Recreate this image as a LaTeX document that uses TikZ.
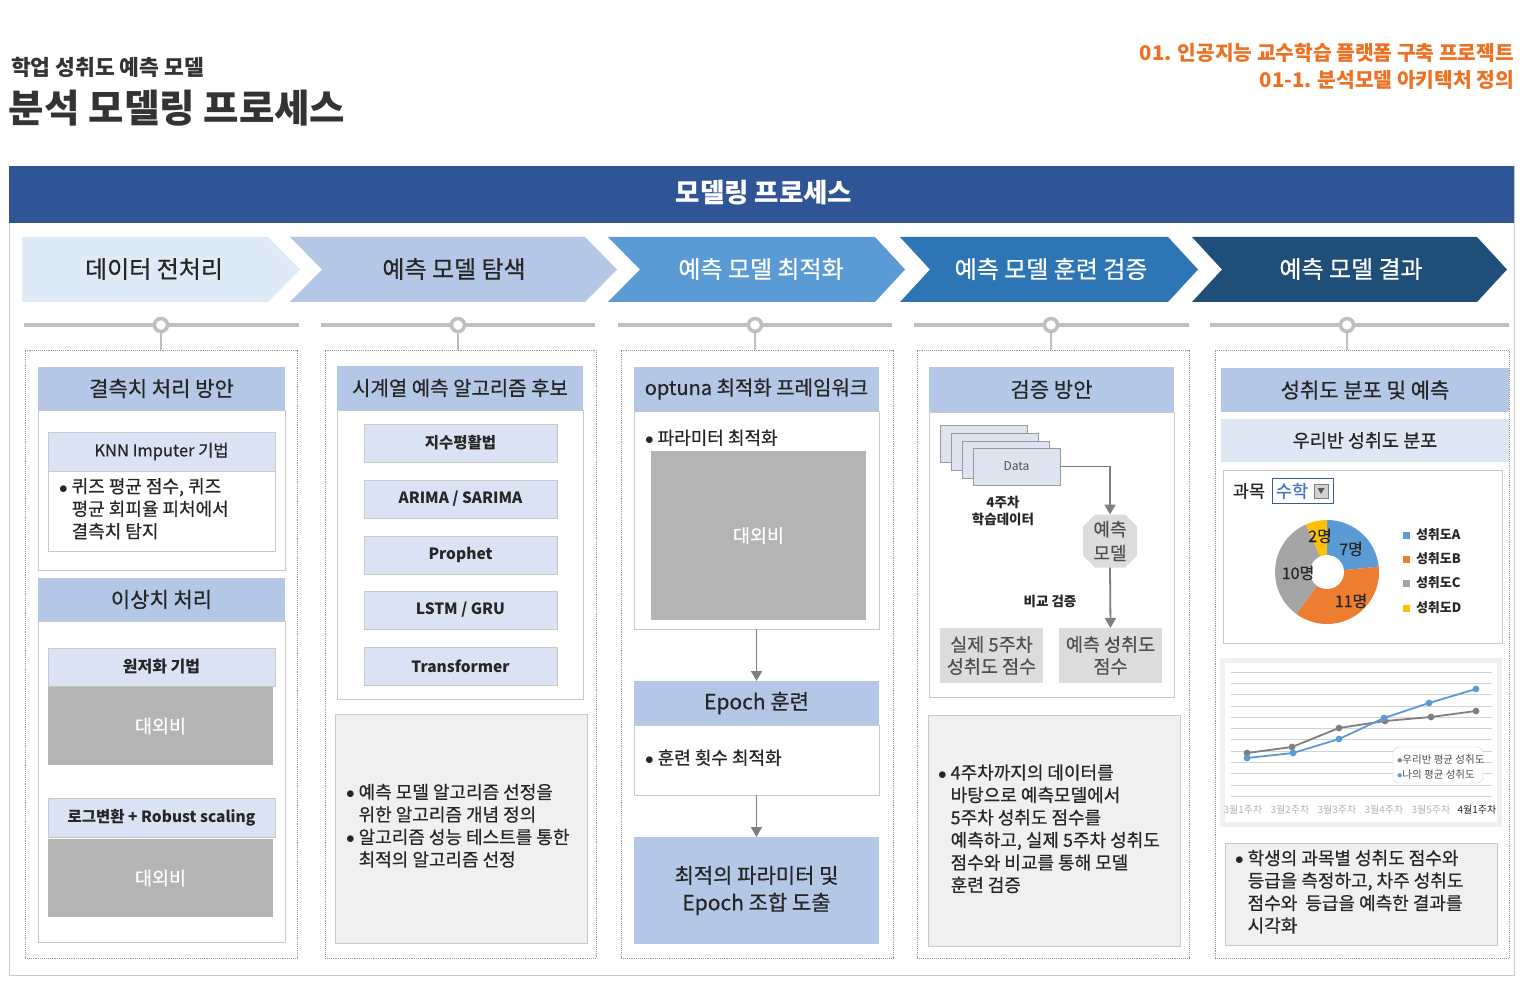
\documentclass[tikz,border=0pt]{standalone}
\usepackage{fontspec}
\setmainfont{Noto Sans CJK KR}
\newfontfamily\med[FakeBold=0.5]{Noto Sans CJK KR}
\usetikzlibrary{arrows.meta,shapes.misc}
\definecolor{txt}{HTML}{262626}
\definecolor{titleg}{HTML}{333333}
\definecolor{orng}{HTML}{EE7022}
\definecolor{banner}{HTML}{2F5597}
\definecolor{chA}{HTML}{DEEAF6}
\definecolor{chB}{HTML}{B4C7E7}
\definecolor{chC}{HTML}{5B9BD5}
\definecolor{chD}{HTML}{2E75B6}
\definecolor{chE}{HTML}{1F4E79}
\definecolor{hdrblue}{HTML}{B4C7E7}
\definecolor{subblue}{HTML}{DAE3F3}
\definecolor{lineg}{HTML}{C8C8C8}
\definecolor{dotg}{HTML}{9A9A9A}
\definecolor{tlg}{HTML}{BFBFBF}
\definecolor{confg}{HTML}{B4B4B4}
\definecolor{noteg}{HTML}{F0F0F0}
\definecolor{arrg}{HTML}{7F7F7F}
\definecolor{cardc}{HTML}{DDE4EF}
\definecolor{cardb}{HTML}{9A9A9A}
\definecolor{boxg}{HTML}{DCDCDC}
\definecolor{gtext}{HTML}{505050}
\definecolor{pieA}{HTML}{5B9BD5}
\definecolor{pieB}{HTML}{ED7D31}
\definecolor{pieC}{HTML}{A5A5A5}
\definecolor{pieD}{HTML}{FFC000}
\definecolor{ddblue}{HTML}{3A5C9A}
\definecolor{mathblue}{HTML}{4472C4}
\definecolor{sublight}{HTML}{DEE8F5}
\newcommand\fsz[2]{\fontsize{#1}{#2}\selectfont}
\newcommand\bult{$\bullet$}
\newcommand\mybox[7]{\node[#2, minimum width={(#5)-(#3)}, minimum height={(#6)-(#4)}] (#1) at ({((#3)+(#5))/2},{((#4)+(#6))/2}) {#7};}
\begin{document}
\begin{tikzpicture}[x=1pt,y=-1pt,
  base/.style={inner sep=0pt, outer sep=0pt},
  hdr/.style={base, fill=hdrblue, text=txt, align=center, font=\med\fsz{21}{25}},
  sub/.style={base, fill=subblue, draw=lineg, line width=0.6pt, text=txt, align=center},
  panel/.style={base, fill=white, draw=lineg, line width=0.8pt},
  conf/.style={base, fill=confg, text=white, font=\med\fsz{18.5}{22}},
  note/.style={base, fill=noteg, draw=lineg, line width=0.8pt},
  col/.style={base, draw=dotg, densely dotted, line width=0.9pt},
  arr/.style={draw=arrg, line width=1.8pt, -{Triangle[length=10pt,width=11pt]}},
  bul/.style={base, anchor=west, text=txt, font=\med\fsz{18}{22.5}},
  chev/.style={base, font=\med\fsz{24}{28}},
  tl/.style={draw=tlg, line width=4.5pt},
  dot/.style={base, circle, draw=tlg, line width=3.5pt, fill=white, minimum size=13pt},
  algo/.style={sub, font=\fsz{15.5}{18}\bfseries},
  card/.style={base, fill=cardc, draw=cardb, line width=0.7pt},
  gbx/.style={base, fill=boxg, text=gtext, align=center, font=\med\fsz{18.5}{22}},
  lab/.style={base, font=\fsz{10}{12}, text=gray!60},
  leg/.style={base, anchor=west, font=\fsz{13}{15}\bfseries, text=txt},
]
\useasboundingbox (0,0) rectangle (1532,984);
\fill[white] (0,0) rectangle (1532,984);

% titles
\node[base, anchor=west, font=\fsz{21.5}{25}\bfseries, text=titleg] (subtitle) at (11,67) {학업 성취도 예측 모델};
\node[base, anchor=west, font=\fsz{38.5}{42}\bfseries, text=titleg] (title) at (9,108) {분석 모델링 프로세스};
\node[base, anchor=east, font=\fsz{20.3}{24}\bfseries, text=orng] (pj1) at (1514,53) {01. 인공지능 교수학습 플랫폼 구축 프로젝트};
\node[base, anchor=east, font=\fsz{20.3}{24}\bfseries, text=orng] (pj2) at (1514,80) {01-1. 분석모델 아키텍처 정의};

% frame and banner
\mybox{frame}{base, draw=lineg, line width=0.8pt}{9}{166}{1514}{975}{}
\mybox{banner}{base, fill=banner, text=white, font=\fsz{26.5}{30}\bfseries}{9}{166}{1514}{223}{}
\node[base, text=white, font=\fsz{26.5}{30}\bfseries] (bannert) at (764,193) {모델링 프로세스};

% chevrons
\fill[chA] (22,237) -- (268,237) -- (300,269.5) -- (268,302) -- (22,302) -- cycle;
\fill[chB] (290,237) -- (585,237) -- (617,269.5) -- (585,302) -- (290,302) -- (322,269.5) -- cycle;
\fill[chC] (608,237) -- (875,237) -- (905,269.5) -- (875,302) -- (608,302) -- (640,269.5) -- cycle;
\fill[chD] (900,237) -- (1168,237) -- (1198,269.5) -- (1168,302) -- (900,302) -- (930,269.5) -- cycle;
\fill[chE] (1192,237) -- (1477,237) -- (1507,269.5) -- (1477,302) -- (1192,302) -- (1222,269.5) -- cycle;
\node[chev, text=txt] (ch1) at (154,269) {데이터 전처리};
\node[chev, text=txt] (ch2) at (454,269) {예측 모델 탐색};
\node[chev, text=white] (ch3) at (761,269) {예측 모델 최적화};
\node[chev, text=white] (ch4) at (1051,269) {예측 모델 훈련 검증};
\node[chev, text=white] (ch5) at (1351,269) {예측 모델 결과};

% timeline
\foreach \a/\b in {24/299, 321/595, 618/892, 914/1189, 1210/1509}
  \draw[tl] (\a,325) -- (\b,325);

% columns
\mybox{col1}{col}{25}{350}{297}{958}{}
\mybox{col2}{col}{325}{350}{596}{958}{}
\mybox{col3}{col}{621}{350}{893}{958}{}
\mybox{col4}{col}{917}{350}{1189}{958}{}
\mybox{col5}{col}{1215}{350}{1509}{958}{}

\node[dot] (t1) at (161,325) {};
\node[dot] (t2) at (458,325) {};
\node[dot] (t3) at (755,325) {};
\node[dot] (t4) at (1051,325) {};
\node[dot] (t5) at (1347,325) {};
\foreach \i in {1,...,5}
  \draw[draw=tlg, line width=1.6pt] (t\i.south) -- (t\i.south |- col\i.north);

% ---------- column 1
\mybox{h1a}{hdr}{38}{367}{285}{410}{결측치 처리 방안}
\mybox{p1a}{panel}{38}{410}{285}{570}{}
\mybox{knnh}{sub, font=\med\fsz{16.5}{19}}{48}{432}{275}{471}{KNN Imputer 기법}
\mybox{knnb}{panel}{48}{471}{275}{551}{}
\node[bul] (knnt) at (59,511) {\begin{tabular}{@{}l@{\hspace{4pt}}l@{}}\bult & 퀴즈 평균 점수, 퀴즈\\ & 평균 회피율 피처에서\\ & 결측치 탐지\end{tabular}};
\mybox{h1b}{hdr}{38}{578}{285}{621}{이상치 처리}
\mybox{p1b}{panel}{38}{621}{285}{942}{}
\mybox{wzh}{sub, font=\fsz{16}{18}\bfseries}{48}{648}{275}{686}{원저화 기법}
\mybox{wzc}{conf}{48}{687}{273}{765}{대외비}
\mybox{lgh}{sub, font=\fsz{15.5}{18}\bfseries}{48}{798}{275}{837}{로그변환 + Robust scaling}
\mybox{lgc}{conf}{48}{839}{273}{917}{대외비}

% ---------- column 2
\mybox{h2}{hdr, font=\med\fsz{20}{24}}{337}{366}{583}{410}{시계열 예측 알고리즘 후보}
\mybox{p2}{panel}{337}{410}{583}{699}{}
\mybox{a1}{algo}{364}{424}{557}{462}{지수평활법}
\mybox{a2}{algo}{364}{480}{557}{518}{ARIMA / SARIMA}
\mybox{a3}{algo}{364}{536}{557}{574}{Prophet}
\mybox{a4}{algo}{364}{591}{557}{629}{LSTM / GRU}
\mybox{a5}{algo}{364}{647}{557}{685}{Transformer}
\mybox{n2}{note}{335}{714}{587}{943}{}
\node[bul] (n2t) at (346,828) {\begin{tabular}{@{}l@{\hspace{4pt}}l@{}}\bult & 예측 모델 알고리즘 선정을\\ & 위한 알고리즘 개념 정의\\ \bult & 알고리즘 성능 테스트를 통한\\ & 최적의 알고리즘 선정\end{tabular}};

% ---------- column 3
\mybox{h3}{hdr, font=\med\fsz{20}{24}}{634}{367}{879}{411}{optuna 최적화 프레임워크}
\mybox{p3}{panel}{634}{411}{879}{629}{}
\node[bul] (p3t) at (645,440) {\begin{tabular}{@{}l@{\hspace{4pt}}l@{}}\bult & 파라미터 최적화\end{tabular}};
\mybox{c3}{conf}{651}{451}{866}{620}{대외비}
\mybox{e3}{hdr}{634}{681}{879}{725}{Epoch 훈련}
\mybox{pe3}{panel}{634}{725}{879}{795}{}
\node[bul] (pe3t) at (645,760) {\begin{tabular}{@{}l@{\hspace{4pt}}l@{}}\bult & 훈련 횟수 최적화\end{tabular}};
\mybox{r3}{hdr, font=\med\fsz{21}{27}}{634}{837}{879}{944}{최적의 파라미터 및\\Epoch 조합 도출}
\draw[arr] (p3.south) -- (e3.north);
\draw[arr] (pe3.south) -- (r3.north);

% ---------- column 4
\mybox{h4}{hdr}{929}{367}{1174}{412}{검증 방안}
\mybox{p4}{panel}{929}{412}{1174}{697}{}
\mybox{d1}{card}{940}{425}{1027}{462}{}
\mybox{d2}{card}{951}{433}{1038}{470}{}
\mybox{d3}{card}{962}{441}{1049}{478}{}
\mybox{d4}{card, font=\fsz{12}{14}, text=gtext}{973}{448}{1060}{485}{Data}
\node[base, align=center, font=\fsz{13.5}{17}\bfseries, text=txt] (wk4) at (1003,511) {4주차\\학습데이터};
\node[base, chamfered rectangle, chamfered rectangle xsep=6pt, chamfered rectangle ysep=6pt, fill=boxg, minimum width=54pt, minimum height=53pt, align=center, font=\med\fsz{18}{24}, text=gtext] (model) at (1110,541) {예측\\모델};
\node[base, font=\fsz{13.5}{15}\bfseries, text=txt] (cmp) at (1050,601) {비교 검증};
\mybox{real}{gbx}{940}{628}{1043}{683}{실제 5주차\\성취도 점수}
\mybox{pred}{gbx}{1059}{628}{1162}{683}{예측 성취도\\점수}
\draw[arr] (d4.east) -| (model.north);
\draw[arr] (model.south) -- (pred.north);
\mybox{n4}{note}{928}{715}{1180}{946}{}
\node[bul] (n4t) at (938,831) {\begin{tabular}{@{}l@{\hspace{4pt}}l@{}}\bult & 4주차까지의 데이터를\\ & 바탕으로 예측모델에서\\ & 5주차 성취도 점수를\\ & 예측하고, 실제 5주차 성취도\\ & 점수와 비교를 통해 모델\\ & 훈련 검증\end{tabular}};

% ---------- column 5
\mybox{h5}{hdr}{1221}{368}{1509}{412}{성취도 분포 및 예측}
\mybox{s5}{base, fill=sublight, text=txt, font=\med\fsz{18.5}{22}}{1221}{419}{1509}{462}{우리반 성취도 분포}
\mybox{cp}{panel}{1223}{470}{1502}{643}{}
\node[base, font=\med\fsz{17.5}{20}, text=txt] (subj) at (1249,491) {과목};
\mybox{dd}{base, draw=ddblue, line width=1pt, fill=white}{1272}{478}{1333}{503}{}
\node[base, font=\med\fsz{17.5}{20}, text=mathblue] (math) at (1292,491) {수학};
\mybox{ddi}{base, fill=gray!35, draw=gray}{1314}{484}{1328}{498}{}
\fill[gray!70!black] (1317.5,488) -- (1324.5,488) -- (1321,494) -- cycle;
\begin{scope}[shift={(1327,572)}, y=1pt]
  \fill[pieA] (0,0) -- (90:52) arc[start angle=90, end angle=6, radius=52] -- cycle;
  \fill[pieB] (0,0) -- (6:52) arc[start angle=6, end angle=-126, radius=52] -- cycle;
  \fill[pieC] (0,0) -- (-126:52) arc[start angle=-126, end angle=-246, radius=52] -- cycle;
  \fill[pieD] (0,0) -- (-246:52) arc[start angle=-246, end angle=-270, radius=52] -- cycle;
  \fill[white] (0,0) circle[radius=17];
\end{scope}
\node[base, font=\med\fsz{16}{18}, text=txt] (l2) at (1320,536) {2명};
\node[base, font=\med\fsz{16}{18}, text=txt] (l7) at (1351,549) {7명};
\node[base, font=\med\fsz{16}{18}, text=txt] (l10) at (1298,573) {10명};
\node[base, font=\med\fsz{16}{18}, text=txt] (l11) at (1351,601) {11명};
\fill[pieA] (1403,531.5) rectangle (1410,538.5);
\fill[pieB] (1403,555.5) rectangle (1410,562.5);
\fill[pieC] (1403,579.5) rectangle (1410,586.5);
\fill[pieD] (1403,604.5) rectangle (1410,611.5);
\node[leg] (lgA) at (1416,535) {성취도A};
\node[leg] (lgB) at (1416,559) {성취도B};
\node[leg] (lgC) at (1416,583) {성취도C};
\node[leg] (lgD) at (1416,608) {성취도D};

% line chart
\mybox{lcf}{base, fill=noteg}{1220}{658}{1502}{827}{}
\mybox{lci}{base, fill=white}{1225}{663}{1497}{822}{}
\foreach \i in {0,...,11}
  \draw[gray!35, line width=0.8pt] (1231,{672+\i*11.3}) -- (1492,{672+\i*11.3});
\draw[arrg, line width=1.8pt] plot[mark=*, mark size=2.4pt, mark options={fill=arrg}] coordinates {(1247,753) (1292,747) (1339,728) (1385,721) (1431,717) (1476,711)};
\draw[pieA, line width=1.8pt] plot[mark=*, mark size=2.4pt, mark options={fill=pieA}] coordinates {(1247,758) (1293,753) (1339,739) (1384,718) (1429,703) (1476,689)};
\node[lab] (x1) at (1243,810) {3월1주차};
\node[lab] (x2) at (1290,810) {3월2주차};
\node[lab] (x3) at (1337,810) {3월3주차};
\node[lab] (x4) at (1384,810) {3월4주차};
\node[lab] (x5) at (1431,810) {3월5주차};
\node[lab, text=txt] (x6) at (1477,810) {4월1주차};
\node[base, draw=gray!35, fill=white, rounded corners=6pt, minimum width=90pt, minimum height=36pt] (lcl) at (1438,765) {};
\node[base, anchor=west, font=\fsz{10.5}{12}, text=gtext] (lclA) at (1397,760) {\textcolor{arrg}{$\bullet$}우리반 평균 성취도};
\node[base, anchor=west, font=\fsz{10.5}{12}, text=gtext] (lclB) at (1397,775) {\textcolor{pieA}{$\bullet$}나의 평균 성취도};

\mybox{n5}{note}{1225}{843}{1497}{945}{}
\node[bul] (n5t) at (1235,894) {\begin{tabular}{@{}l@{\hspace{4pt}}l@{}}\bult & 학생의 과목별 성취도 점수와\\ & 등급을 측정하고, 차주 성취도\\ & 점수와~ 등급을 예측한 결과를\\ & 시각화\end{tabular}};
\end{tikzpicture}
\end{document}
